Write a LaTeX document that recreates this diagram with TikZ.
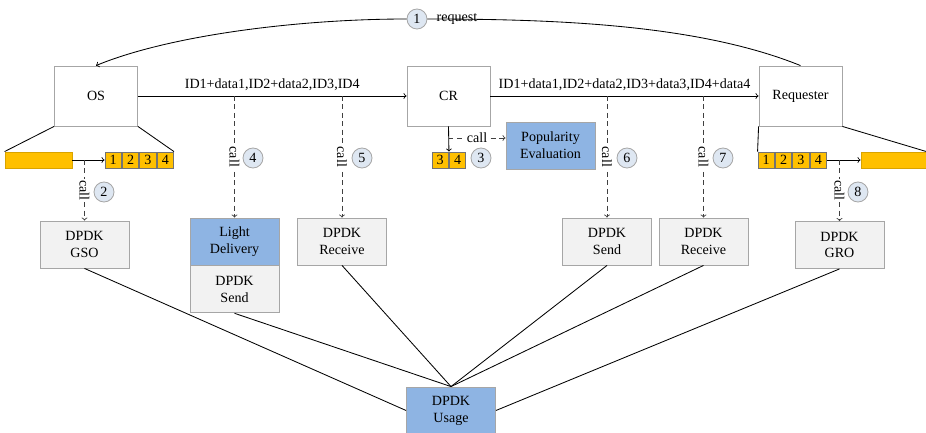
\documentclass[tikz,border=0pt]{standalone}
\usepackage{fontspec}
\setmainfont{Liberation Serif}
\usetikzlibrary{positioning}
\definecolor{boxgray}{HTML}{F2F2F2}
\definecolor{edgegray}{HTML}{A6A6A6}
\definecolor{popblue}{HTML}{8EB4E3}
\definecolor{cellyellow}{HTML}{FFC000}
\definecolor{numfill}{HTML}{DEE7F2}

\begin{document}
\begin{tikzpicture}[x=0.025cm, y=-0.025cm, line width=0.6pt, font=\fontsize{10}{12}\selectfont,
	entity/.style={draw=edgegray, fill=white, minimum width=2.075cm, minimum height=1.5cm},
	dpdk/.style={draw=edgegray, fill=boxgray, minimum width=2.225cm, minimum height=1.175cm, align=center, inner sep=1pt},
	bluebox/.style={dpdk, fill=popblue},
	cell/.style={draw=black!55, fill=cellyellow, minimum width=0.4125cm, minimum height=0.4cm, inner sep=0pt},
	bar/.style={draw=cellyellow!85!black, fill=cellyellow, minimum height=0.4cm, inner sep=0pt},
	num/.style={shape=circle, draw=edgegray, fill=numfill, minimum size=0.5cm, inner sep=0pt},
	calltag/.style={fill=white, inner sep=1pt, rotate=-90},
	calldash/.style={dashed, dash pattern=on 3.5pt off 2.5pt, draw=black!75}]
			\useasboundingbox (0,0) rectangle (926,433);

			\node[entity] (os) at (96,96) {OS};
			\node[entity] (cr) at (448.5,96) {CR};
			\node[entity] (req) at (800.5,96) {Requester};

			\node[bar, minimum width=1.675cm] (lbar) at (38.5,160) {};
			\node[cell] (l1) at (113.25,160) {1};
			\node[cell, right=0pt of l1] (l2) {2};
			\node[cell, right=0pt of l2] (l3) {3};
			\node[cell, right=0pt of l3] (l4) {4};
			\node[cell] (c3) at (440.25,160) {3};
			\node[cell, right=0pt of c3] (c4) {4};
			\node[cell] (r1) at (766.25,160) {1};
			\node[cell, right=0pt of r1] (r2) {2};
			\node[cell, right=0pt of r2] (r3) {3};
			\node[cell, right=0pt of r3] (r4) {4};
			\node[bar, minimum width=1.625cm] (rbar) at (893.5,160) {};

			\node[bluebox] (pop) at (550.5,145.5) {Popularity\\Evaluation};
			\node[dpdk] (gso) at (84.5,244.5) {DPDK\\GSO};
			\node[bluebox] (light) at (234.5,241.5) {Light\\Delivery};
			\node[dpdk, below=0pt of light] (lsend) {DPDK\\Send};
			\node[dpdk] (lrecv) at (342,241.5) {DPDK\\Receive};
			\node[dpdk] (rsend) at (607,241.5) {DPDK\\Send};
			\node[dpdk] (rrecv) at (703.5,241.5) {DPDK\\Receive};
			\node[dpdk] (gro) at (839.5,245) {DPDK\\GRO};
			\node[bluebox] (usage) at (451,410.5) {DPDK\\Usage};

			\node[num] (n1) at (417,19) {1};
			\node (reqtext) at (457,19) {request};
			\draw (req.north) .. controls (700,25) and (560,19) .. (n1.east);
			\draw[->] (n1.west) .. controls (300,19) and (170,35) .. (os.north);

			\draw[->] (os) -- node[above] {ID1+data1,ID2+data2,ID3,ID4} (cr);
			\draw[->] (cr) -- node[above] {ID1+data1,ID2+data2,ID3+data3,ID4+data4} (req);

			\draw (os.south west) -- (lbar.north west);
			\draw (os.south east) -- (l4.north east);
			\draw (req.south west) -- (r1.north west);
			\draw (req.south east) -- (rbar.north east);
			\draw[->] (lbar) -- (l1);
			\draw[->] (r4) -- (rbar);
			\draw[->] (cr.south) -- (c3.north east);

			\coordinate (t2) at (gso.north |- lbar.east);
			\coordinate (t3) at (448.5,138);
			\coordinate (p3) at (pop.west |- t3);
			\coordinate (t4) at (light.north |- os.east);
			\coordinate (t5) at (lrecv.north |- os.east);
			\coordinate (t6) at (rsend.north |- req.west);
			\coordinate (t7) at (rrecv.north |- req.west);
			\coordinate (t8) at (gro.north |- rbar.west);

			\draw[calldash, ->] (t2) -- node[calltag] {call} (gso.north);
			\draw[calldash, ->] (t3) -- node[fill=white, inner sep=1pt] {call} (p3);
			\draw[calldash, ->] (t4) -- node[calltag] {call} (light.north);
			\draw[calldash, ->] (t5) -- node[calltag] {call} (lrecv.north);
			\draw[calldash, ->] (t6) -- node[calltag] {call} (rsend.north);
			\draw[calldash, ->] (t7) -- node[calltag] {call} (rrecv.north);
			\draw[calldash, ->] (t8) -- node[calltag] {call} (gro.north);

			\node[num] (n2) at (104,192) {2};
			\node[num] (n3) at (481,158) {3};
			\node[num] (n4) at (253,158) {4};
			\node[num] (n5) at (362,158) {5};
			\node[num] (n6) at (627,158) {6};
			\node[num] (n7) at (723,158) {7};
			\node[num] (n8) at (858,192) {8};

			\draw (gso.south) -- (usage.west);
			\draw (lsend.south) -- (usage.north);
			\draw (lrecv.south) -- (usage.north);
			\draw (rsend.south) -- (usage.north);
			\draw (rrecv.south) -- (usage.north);
			\draw (gro.south) -- (usage.east);
		\end{tikzpicture}
\end{document}
